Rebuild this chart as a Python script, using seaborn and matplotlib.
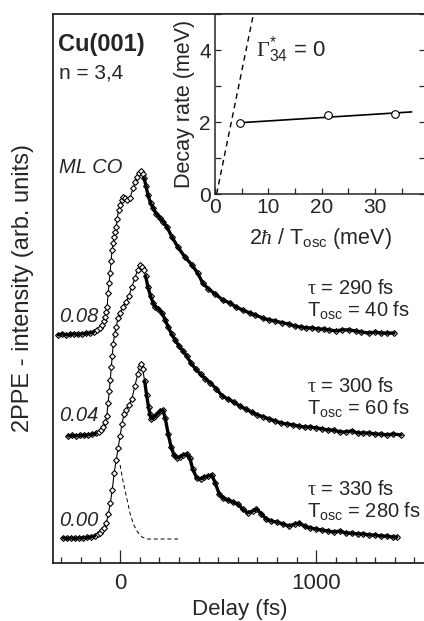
import matplotlib
matplotlib.use("Agg")
import matplotlib.pyplot as plt
from matplotlib.ticker import MultipleLocator
import numpy as np
import pandas as pd
import seaborn as sns

# ---------------- data ----------------
# 2PPE transients, intensity above each trace's own baseline (arb. units)
t_000 = [-290, -270, -250, -230, -210, -190, -170, -150, -130, -115, -100, -90, -80, -70, -60, -50,
         -40, -30, -20, -10, 0, 10, 20, 30, 45, 60, 75, 90, 100, 107, 115, 125, 135, 145, 152, 160,
         175, 190, 205, 218, 230, 245, 260, 275, 290, 305, 320, 340, 355, 370, 390, 410, 430, 450,
         467, 485, 505, 525, 550, 575, 600, 625, 650, 675, 695, 720, 745, 770, 800, 830, 860, 890,
         914, 940, 970, 1000, 1030, 1060, 1090, 1120, 1150, 1180, 1210, 1240, 1270, 1300, 1330,
         1360, 1390, 1410]
i_000 = [0.6, 0.3, 0.6, 0.3, 0.6, 0.6, 0.9, 1.1, 1.7, 2.6, 3.7, 4.9, 6.3, 9.1, 14.3, 20.6,
         28.0, 38.0, 45.0, 52.0, 59.0, 66.0, 71.4, 73.7, 76.6, 80.0, 87.4, 94.3, 98.3, 100.0, 97.1,
         90.3, 82.3, 75.4, 71.4, 68.6, 69.7, 71.4, 73.1, 73.7, 69.1, 60.0, 52.6, 48.0, 46.3, 46.9,
         48.0, 48.6, 46.3, 40.0, 34.9, 34.3, 35.4, 36.0, 36.6, 32.0, 25.7, 23.4, 22.3, 21.1, 20.0,
         17.1, 14.9, 16.0, 17.1, 14.3, 11.4, 10.3, 9.7, 8.6, 7.4, 8.6, 9.1, 7.4, 6.3, 5.7, 5.1, 4.6,
         4.0, 4.6, 3.4, 3.4, 2.9, 2.9, 2.3, 2.3, 1.7, 1.7, 1.1, 1.1]

t_004 = [-265, -245, -225, -205, -185, -165, -145, -125, -110, -95, -85, -75, -68, -61, -55, -50,
         -45, -40, -35, -28, -20, -10, 0, 15, 30, 45, 60, 75, 90, 101, 112, 120, 130, 142, 155, 168,
         180, 195, 213, 230, 245, 262, 280, 300, 320, 340, 360, 385, 410, 435, 460, 490, 520, 550,
         580, 610, 640, 670, 700, 730, 760, 790, 820, 850, 880, 910, 940, 970, 1000, 1030, 1060,
         1090, 1120, 1150, 1180, 1210, 1240, 1270, 1300, 1330, 1360, 1390, 1432]
i_004 = [0.0, 0.3, 0.0, 0.3, 0.3, 0.6, 0.9, 1.4, 2.3, 3.4, 5.1, 8.0, 11.4, 18.9, 25.7, 32.0,
         39.4, 45.7, 52.6, 58.3, 62.3, 67.4, 70.3, 73.7, 76.6, 80.0, 85.1, 90.3, 94.9, 97.7, 96.6,
         94.9, 91.4, 85.1, 80.0, 76.0, 73.7, 72.6, 70.3, 66.3, 62.3, 58.3, 54.9, 51.4, 48.6, 45.7,
         41.7, 38.3, 35.4, 32.6, 30.3, 26.9, 22.9, 21.1, 19.4, 17.1, 15.4, 13.7, 12.0, 10.9, 9.7,
         8.6, 7.4, 6.9, 6.3, 5.7, 5.1, 5.1, 4.6, 4.0, 3.4, 3.4, 2.3, 2.3, 2.9, 1.7, 1.7, 1.7, 1.1,
         1.1, 0.6, 1.1, 0.6]

t_008 = [-315, -295, -275, -255, -235, -215, -195, -175, -155, -135, -117, -104, -91, -82, -76,
         -70, -66, -61, -56, -51, -46, -41, -35, -30, -25, -20, -15, -8, 0, 8, 15, 25, 36, 51, 66,
         76, 86, 97, 107, 115, 122, 132, 142, 155, 168, 185, 203, 220, 239, 264, 294, 330, 366,
         395, 421, 450, 485, 523, 560, 590, 624, 660, 690, 726, 760, 790, 827, 860, 890, 920, 949,
         980, 1010, 1040, 1066, 1100, 1130, 1167, 1200, 1230, 1269, 1300, 1330, 1360, 1396]
i_008 = [0.0, 0.6, 0.0, 0.3, 0.6, 0.3, 0.6, 0.9, 1.1, 1.7, 2.9, 4.0, 5.7, 8.0, 10.3,
         13.1, 16.0, 24.0, 29.7, 35.4, 42.3, 48.6, 52.6, 56.0, 58.9, 61.7, 66.3, 71.4, 74.3, 77.1,
         78.9, 78.3, 77.1, 78.3, 84.0, 87.4, 90.3, 92.6, 93.7, 92.0, 89.7, 85.1, 80.0, 75.4, 72.6,
         69.1, 66.9, 64.6, 61.7, 56.0, 50.3, 44.6, 40.0, 35.4, 29.7, 26.3, 23.4, 20.0, 18.3, 16.0,
         14.3, 12.6, 11.4, 9.7, 8.6, 8.0, 6.9, 6.3, 5.1, 4.6, 4.0, 4.0, 3.4, 3.4, 2.9, 2.3, 2.9,
         2.9, 2.3, 1.7, 1.1, 1.7, 1.1, 1.1, 1.1]

coverage_labels = ["0.00", "0.04", "0.08"]
baselines = [13.7, 72.6, 130.3]
tau_labels = ["330", "300", "290"]
tosc_labels = ["280", "60", "40"]

# pump-probe cross correlation (right half), drawn on the 0.00 baseline
t_cc = [0, 15, 36, 50, 66, 85, 112, 140, 180, 220, 260, 305]
i_cc = [42.3, 33.0, 22.3, 15.0, 9.1, 4.6, 1.1, 0.0, 0.0, 0.0, 0.0, 0.0]

# inset: decay rate vs 2hbar/T_osc
rate_x = [4.7, 21.2, 33.8]
rate_y = [1.98, 2.19, 2.22]
fit_x = [4.7, 36.9]
fit_y = [1.98, 2.28]
gamma0_x = [0.3, 7.9]
gamma0_y = [0.0, 5.5]

# ---------------- style ----------------
sns.set_style("ticks")
plt.rcParams["font.family"] = ["Liberation Sans", "DejaVu Sans"]
plt.rcParams["mathtext.fontset"] = "custom"
plt.rcParams["mathtext.rm"] = "Liberation Sans"
plt.rcParams["mathtext.it"] = "Liberation Serif:italic"
plt.rcParams["mathtext.tt"] = "Liberation Serif"
plt.rcParams["mathtext.bf"] = "Liberation Sans:bold"
plt.rcParams["axes.linewidth"] = 1.3

W, H = 424, 621
fig = plt.figure(figsize=(W / 100, H / 100), dpi=100)
ax = fig.add_axes([53 / W, (H - 563) / H, (426 - 53) / W, (563 - 14) / H])

traces = [(t_000, i_000), (t_004, i_004), (t_008, i_008)]
frames = []
for k, (tt, ii) in enumerate(traces):
    frames.append(pd.DataFrame({"delay": tt,
                                "signal": np.asarray(ii) + baselines[k],
                                "trace": coverage_labels[k]}))
df = pd.concat(frames, ignore_index=True)

for lab in coverage_labels:
    sub = df[df.trace == lab]
    sns.lineplot(data=sub, x="delay", y="signal", ax=ax,
                 color="black", lw=0.8, marker="D", markersize=3.0,
                 markerfacecolor="white", markeredgecolor="black",
                 markeredgewidth=0.8, sort=False, estimator=None, legend=False,
                 zorder=2)
    # densely sampled slow parts of each trace appear as a heavy band
    for part in (sub[sub.delay <= -120], sub[sub.delay >= 122]):
        sns.lineplot(data=part, x="delay", y="signal", ax=ax, color="black",
                     lw=2.4, sort=False, estimator=None, legend=False, zorder=3)

cc = pd.DataFrame({"delay": t_cc, "signal": np.asarray(i_cc) + baselines[0]})
sns.lineplot(data=cc, x="delay", y="signal", ax=ax, color="black", lw=0.7,
             linestyle=(0, (4, 3)), legend=False)

ax.set_xlim(-342, 1559)
ax.set_ylim(0, 313.7)
ax.set_yticks([])
ax.set_xticks([0, 1000])
ax.set_xticklabels(["0", "1000"])
ax.xaxis.set_minor_locator(MultipleLocator(100))
ax.tick_params(axis="x", which="major", direction="in", length=9.5, width=0.9,
               labelsize=16, pad=7)
ax.tick_params(axis="x", which="minor", direction="in", length=4.5, width=0.9)
ax.spines["right"].set_visible(False)
ax.set_xlabel("Delay (fs)", fontsize=16, labelpad=4)
ax.set_ylabel("2PPE - intensity (arb. units)", fontsize=17)
ax.yaxis.set_label_coords(-0.05, 0.5)

# text annotations in the main panel
ax.text(-318, 296, "Cu(001)", fontsize=17, fontweight="bold", va="center")
ax.text(-310, 280, "n = 3,4", fontsize=15, va="center")
ax.text(-312, 226, "ML CO", fontsize=14.5, style="italic", va="center")
lab_y = [24.5, 84, 141]
for k, lab in enumerate(coverage_labels):
    ax.text(-312, lab_y[k], lab, fontsize=14.5, style="italic", va="center")

tau_y = [42, 101, 157]
for k in range(3):
    ax.text(955, tau_y[k], r"$\mathtt{\tau}$ = %s fs" % tau_labels[k], fontsize=14.5,
            va="center")
    ax.text(955, tau_y[k] - 12.5, r"T$_{\rm osc}$ = %s fs" % tosc_labels[k], fontsize=14.5,
            va="center")

# ---------------- inset ----------------
axi = fig.add_axes([215 / W, (H - 194) / H, (425 - 215) / W, (194 - 14) / H])
axi.set_facecolor("white")
sns.lineplot(x=gamma0_x, y=gamma0_y, ax=axi, color="black", lw=1.0,
             linestyle=(0, (4, 3)), legend=False)
sns.lineplot(x=fit_x, y=fit_y, ax=axi, color="black", lw=1.2, legend=False)
sns.scatterplot(x=rate_x, y=rate_y, ax=axi, s=30, facecolor="white",
                edgecolor="black", linewidth=0.8, zorder=5, legend=False)
axi.set_xlim(0, 39.4)
axi.set_ylim(0, 5)
axi.set_xticks([0, 10, 20, 30])
axi.xaxis.set_minor_locator(MultipleLocator(5))
axi.set_yticks([0, 2, 4])
axi.yaxis.set_minor_locator(MultipleLocator(1))
axi.tick_params(which="both", direction="in", length=4.5, width=0.9, labelsize=15,
                right=True, pad=3)
axi.set_ylabel("Decay rate (meV)", fontsize=15.5, labelpad=3)
axi.set_xlabel(r"$2\hbar$ / T$_{\rm osc}$ (meV)", fontsize=15.5, labelpad=6)
axi.text(7.6, 4.0, r"$\mathtt{\Gamma}^{*}_{34}$ = 0", fontsize=16, va="center")
for s in axi.spines.values():
    s.set_linewidth(1.1)

fig.savefig("out.png", dpi=100)
